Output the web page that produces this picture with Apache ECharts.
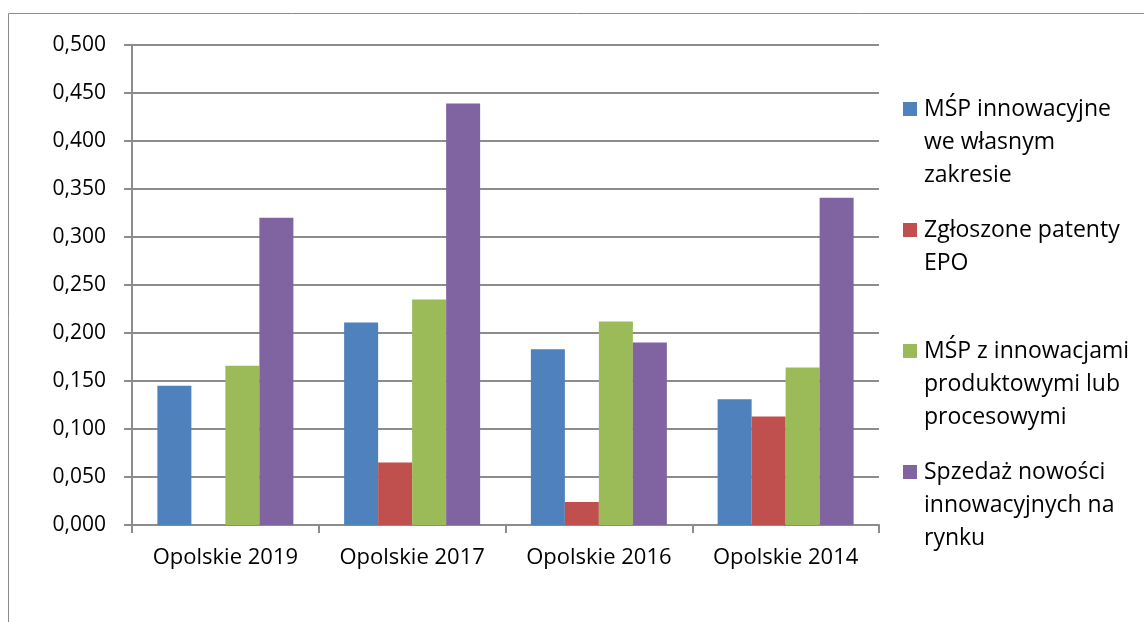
<!DOCTYPE html>
<html>
<head>
<meta charset="utf-8">
<script src="https://cdn.jsdelivr.net/npm/echarts@6/dist/echarts.min.js"></script>
<style>
  html, body { margin: 0; padding: 0; background: #fff; }
  #chart { width: 1144px; height: 622px; }
</style>
</head>
<body>
<div id="chart"></div>
<script>
// dane
const categories = ['Opolskie 2019', 'Opolskie 2017', 'Opolskie 2016', 'Opolskie 2014'];
const legendLines = [
  ['MŚP innowacyjne', 'we własnym', 'zakresie'],
  ['Zgłoszone patenty', 'EPO'],
  ['MŚP z innowacjami', 'produktowymi lub', 'procesowymi'],
  ['Spzedaż nowości', 'innowacyjnych na', 'rynku']
];
const seriesNames = legendLines.map(l => l.join(' '));
const mspWlasne = [0.145, 0.211, 0.183, 0.131];
const patentyEPO = [0, 0.065, 0.024, 0.113];
const mspProdukt = [0.166, 0.235, 0.212, 0.164];
const sprzedaz = [0.320, 0.439, 0.190, 0.341];

const colors = ['#4F81BD', '#C0504D', '#9BBB59', '#8064A2'];
const values = [mspWlasne, patentyEPO, mspProdukt, sprzedaz];
const font = '"Open Sans", sans-serif';
const FS = 23;
const LH = 33;
const legendCenters = [109, 230, 351, 472];

const myChart = echarts.init(document.getElementById('chart'));

// legenda - osobny komponent dla każdej pozycji, pierwsza linia tekstu przy kwadracie
// (puste linie na początku przesuwają blok tekstu w dół)
const legends = seriesNames.map((name, i) => {
  const n = legendLines[i].length;
  const pad = new Array(n - 1).fill('\n').join('');
  return {
    data: [name],
    orient: 'vertical',
    left: 903,
    top: legendCenters[i] - (2 * n - 1) * LH / 2,
    padding: 0,
    icon: 'rect',
    itemWidth: 14,
    itemHeight: 14,
    itemGap: 0,
    selectedMode: false,
    formatter: () => pad + legendLines[i].join('\n'),
    textStyle: {
      fontFamily: font,
      fontSize: FS,
      color: '#000',
      lineHeight: LH,
      padding: [0, 0, 0, 2]
    }
  };
});

const option = {
  animation: false,
  color: colors,
  grid: { left: 132, right: 265, top: 45, bottom: 97 },
  graphic: [{
    type: 'rect',
    shape: { x: 8.5, y: 13.5, width: 1200, height: 700 },
    style: { fill: 'none', stroke: '#8c8c8c', lineWidth: 1 },
    silent: true
  }],
  legend: legends,
  xAxis: {
    type: 'category',
    data: categories,
    axisLine: { lineStyle: { color: '#8c8c8c', width: 2 } },
    axisTick: { show: true, interval: 0, length: 8, lineStyle: { color: '#8c8c8c', width: 2 } },
    axisLabel: { interval: 0, fontFamily: font, fontSize: 22, color: '#000', margin: 22 }
  },
  yAxis: {
    type: 'value',
    min: 0,
    max: 0.5,
    interval: 0.05,
    axisLine: { show: true, lineStyle: { color: '#8c8c8c', width: 2 } },
    axisTick: { show: true, length: 8, lineStyle: { color: '#8c8c8c', width: 2 } },
    splitLine: { lineStyle: { color: '#8c8c8c', width: 2 } },
    axisLabel: {
      fontFamily: font, fontSize: 21, color: '#000', margin: 26,
      formatter: v => v.toFixed(3).replace('.', ',')
    }
  },
  series: seriesNames.map((name, i) => ({
    name: name,
    type: 'bar',
    data: values[i],
    barWidth: 34,
    barGap: '0%',
    itemStyle: { color: colors[i] }
  }))
};

myChart.setOption(option);
</script>
</body>
</html>
